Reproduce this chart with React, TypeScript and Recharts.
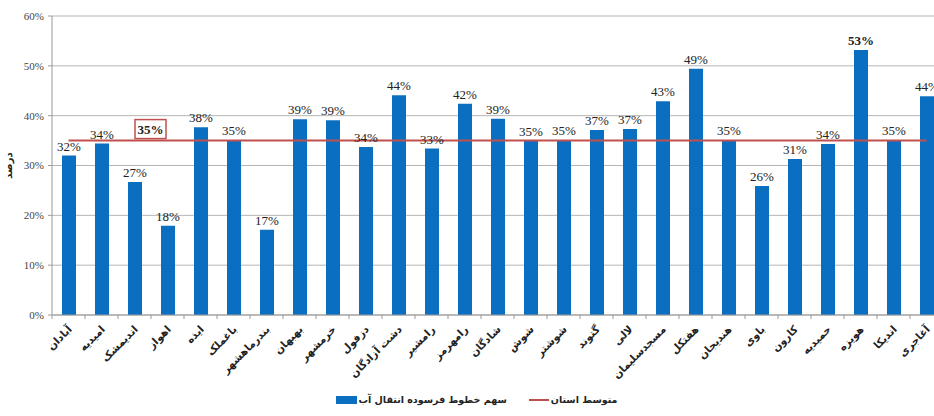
import React from 'react';
import { ComposedChart, Bar, Line, XAxis, YAxis, CartesianGrid, Legend, LabelList } from 'recharts';

const districts = [
  'آبادان', 'امیدیه', 'اندیمشک', 'اهواز', 'ایذه', 'باغملک', 'بندرماهشهر', 'بهبهان', 'خرمشهر',
  'دزفول', 'دشت آزادگان', 'رامشیر', 'رامهرمز', 'شادگان', 'شوش', 'شوشتر', 'گتوند', 'لالی',
  'مسجدسلیمان', 'هفتکل', 'هندیجان', 'باوی', 'کارون', 'حمیدیه', 'هویزه', 'اندیکا', 'آغاجری',
];

// share of worn-out water transmission lines (%)
const wornShare = [
  32.0, 34.4, 26.7, 17.9, 37.7, 35.1, 17.1, 39.3, 39.1,
  33.7, 44.1, 33.4, 42.4, 39.4, 34.9, 35.1, 37.1, 37.3,
  42.9, 49.4, 35.1, 25.9, 31.3, 34.3, 53.2, 35.1, 43.9,
];

// provincial average (%)
const provinceAvg = [
  35, 35, 35, 35, 35, 35, 35, 35, 35,
  35, 35, 35, 35, 35, 35, 35, 35, 35,
  35, 35, 35, 35, 35, 35, 35, 35, 35,
];

const yTicks = [0, 10, 20, 30, 40, 50, 60];

const BAR_NAME = 'سهم خطوط فرسوده انتقال آب';
const LINE_NAME = 'متوسط استان';
const BLUE = '#0b6fc1';
const RED = '#c0504d';
const PERSIAN_FONT = '"DejaVu Sans", sans-serif';
const SERIF_FONT = '"Liberation Serif", serif';

const data = districts.map((name, i) => ({ name, share: wornShare[i], avg: provinceAvg[i] }));

const CategoryTick = (props: any) => {
  const { x, y, payload } = props;
  return (
    <g>
      <line x1={x - 16.5} x2={x - 16.5} y1={y} y2={y + 4} stroke="#999" />
      <text
        transform={`translate(${x + 4},${y + 15}) rotate(-45)`}
        textAnchor="end"
        fontFamily={PERSIAN_FONT}
        fontWeight="bold"
        fontSize={10.5}
        fill="#222"
      >
        {payload.value}
      </text>
    </g>
  );
};

const BarValueLabel = (props: any) => {
  const { x, y, width, value } = props;
  const big = value > 50;
  return (
    <text
      x={x + width / 2}
      y={y - 5}
      textAnchor="middle"
      fontFamily={SERIF_FONT}
      fontSize={13}
      fontWeight={big ? 'bold' : 'normal'}
      fill="#222"
    >
      {Math.round(value)}%
    </text>
  );
};

const AvgLabel = (props: any) => {
  const { x, y, value, index } = props;
  if (index !== 2) return null;
  return (
    <g>
      <rect x={x + 0.5} y={y - 21} width={31} height={19} fill="#fff" stroke={RED} strokeWidth={1.5} />
      <text x={x + 16} y={y - 7} textAnchor="middle" fontFamily={SERIF_FONT} fontSize={13} fontWeight="bold" fill="#222">
        {value}%
      </text>
    </g>
  );
};

const YTitle = (props: any) => {
  const vb = props.viewBox || { y: 16, height: 299 };
  const cy = vb.y + vb.height / 2;
  return (
    <text
      transform={`translate(12,${cy}) rotate(-90)`}
      textAnchor="middle"
      fontFamily={PERSIAN_FONT}
      fontWeight="bold"
      fontSize={10}
      fill="#222"
    >
      درصد
    </text>
  );
};

const LegendBox = () => (
  <div
    style={{
      display: 'flex',
      justifyContent: 'center',
      alignItems: 'center',
      gap: 22,
      fontFamily: PERSIAN_FONT,
      fontWeight: 'bold',
      fontSize: 9.5,
      color: '#222',
      paddingLeft: 10,
    }}
  >
    <span style={{ display: 'flex', alignItems: 'center', gap: 2 }}>
      <span style={{ width: 21, height: 8, background: BLUE, display: 'inline-block' }} />
      <span dir="rtl">{BAR_NAME}</span>
    </span>
    <span style={{ display: 'flex', alignItems: 'center', gap: 2 }}>
      <span style={{ width: 20, height: 2, background: RED, display: 'inline-block' }} />
      <span dir="rtl">{LINE_NAME}</span>
    </span>
  </div>
);

export default function App() {
  return (
    <div style={{ position: 'absolute', left: 0, top: 0, width: 934, height: 416, overflow: 'hidden', background: '#fff' }}>
      <ComposedChart width={950} height={416} data={data} margin={{ top: 16, right: 7, bottom: 0, left: 0 }}>
        <CartesianGrid vertical={false} stroke="#b5b5b5" />
        <XAxis
          dataKey="name"
          interval={0}
          height={79}
          tickSize={0}
          tickMargin={0}
          tickLine={false}
          axisLine={{ stroke: '#999' }}
          tick={<CategoryTick />}
        />
        <YAxis
          width={52}
          domain={[0, 60]}
          ticks={yTicks}
          tickFormatter={(v: number) => `${v}%`}
          tickSize={4}
          tickMargin={4}
          axisLine={{ stroke: '#999' }}
          tickLine={{ stroke: '#999' }}
          tick={{ fontFamily: SERIF_FONT, fontSize: 11, fill: '#444' }}
          label={<YTitle />}
        />
        <Legend verticalAlign="bottom" height={22} content={<LegendBox />} />
        <Bar dataKey="share" name={BAR_NAME} fill={BLUE} barSize={14} isAnimationActive={false}>
          <LabelList dataKey="share" content={<BarValueLabel />} />
        </Bar>
        <Line
          dataKey="avg"
          name={LINE_NAME}
          stroke={RED}
          strokeWidth={2}
          dot={false}
          activeDot={false}
          isAnimationActive={false}
        >
          <LabelList dataKey="avg" content={<AvgLabel />} />
        </Line>
      </ComposedChart>
    </div>
  );
}
